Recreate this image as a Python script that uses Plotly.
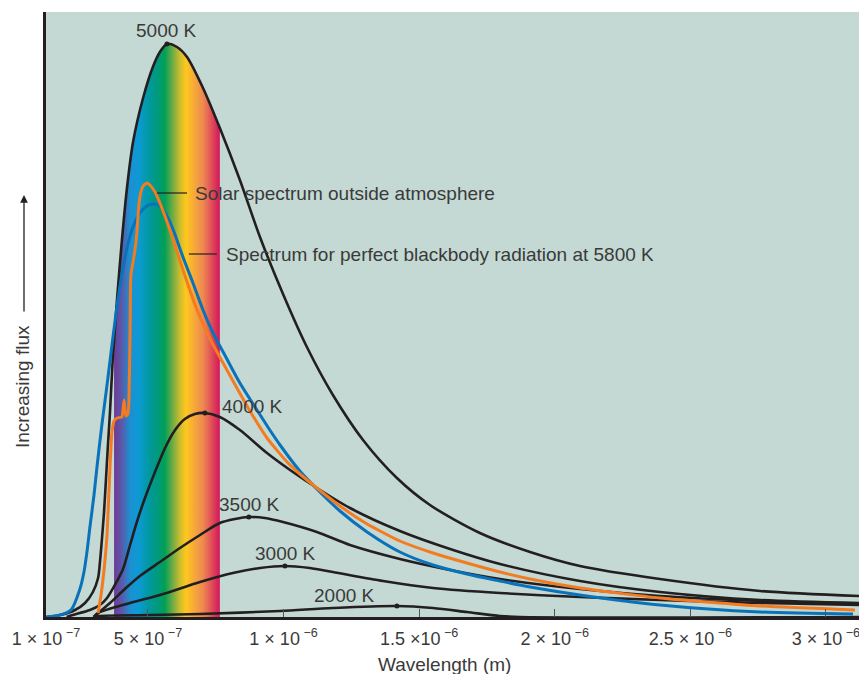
import plotly.graph_objects as go

# ---------------- data (wavelength in micrometres, flux in arbitrary units) ----------------
wl_5000 = [0.125, 0.176, 0.231, 0.268, 0.297, 0.316, 0.323, 0.330, 0.338, 0.345, 0.352, 0.360,
           0.371, 0.375, 0.386, 0.404, 0.423, 0.445, 0.482, 0.518, 0.544, 0.570, 0.607, 0.644,
           0.703, 0.765, 0.839, 0.913, 0.998, 1.086, 1.182, 1.293, 1.418, 1.540, 1.724, 1.909,
           2.093, 2.388, 2.757, 3.122]
flux_5000 = [0, 2, 7, 14, 25, 39, 55, 77, 105, 137, 170, 205,
             262, 276, 318, 377, 430, 475, 519, 550, 565, 573, 570, 560,
             529, 489, 437, 380, 323, 270, 222, 177, 139, 112, 84, 65,
             51, 38, 26, 21]

wl_4000 = [0.200, 0.223, 0.286, 0.323, 0.349, 0.378, 0.408, 0.434, 0.459, 0.489, 0.526, 0.563,
           0.600, 0.636, 0.673, 0.710, 0.765, 0.839, 0.939, 1.024, 1.123, 1.245, 1.429,
           1.614, 1.798, 2.093, 2.388, 2.757, 3.122]
flux_4000 = [0, 2, 7, 12, 19, 32, 48, 72, 95, 119, 145, 169,
             187, 198, 203, 204, 200, 187, 164, 147, 129, 109, 86,
             68, 53, 36, 25, 17, 14]

wl_3500 = [0.300, 0.316, 0.360, 0.415, 0.470, 0.544, 0.618, 0.692, 0.765, 0.821, 0.872, 0.931,
           0.998, 1.123, 1.245, 1.429, 1.614, 1.798, 2.093, 2.388, 2.757, 3.122]
flux_3500 = [0, 4, 14, 28, 41, 55, 69, 82, 94, 98, 100, 99,
             95, 85, 72, 58, 47, 38, 28, 21, 16, 13]

wl_3000 = [0.300, 0.316, 0.434, 0.544, 0.692, 0.813, 0.913, 1.005, 1.097, 1.182, 1.367, 1.551,
           1.798, 2.093, 2.388, 2.757, 3.122]
flux_3000 = [0, 4, 14, 22, 35, 44, 49, 51, 49, 45, 36, 29,
             24, 20, 17, 14, 12]

wl_2000 = [0.300, 0.316, 0.507, 0.692, 0.987, 1.182, 1.418, 1.551, 1.676, 1.798, 1.872, 3.122]
flux_2000 = [0, 1, 2, 3, 6, 9, 11, 9, 5, 1, 0, 0]

wl_bb5800 = [0.125, 0.176, 0.216, 0.249, 0.264, 0.275, 0.286, 0.301, 0.312, 0.330, 0.349, 0.371,
             0.389, 0.408, 0.426, 0.445, 0.470, 0.496, 0.518, 0.544, 0.570, 0.592, 0.629, 0.666,
             0.703, 0.740, 0.791, 0.839, 0.902, 0.942, 0.987, 1.060, 1.123, 1.208, 1.308, 1.429,
             1.551, 1.676, 1.798, 1.909, 2.093, 2.388, 2.757, 3.100]
flux_bb5800 = [0, 2, 7, 28, 45, 65, 90, 122, 150, 192, 232, 280,
               317, 349, 373, 390, 404, 411, 413, 411, 401, 388, 360, 334,
               307, 284, 258, 234, 207, 190, 172, 146, 128, 106, 85, 65,
               52, 43, 36, 30, 22, 12, 5, 3]

wl_solar = [0.316, 0.327, 0.338, 0.349, 0.360, 0.367, 0.375, 0.386, 0.404, 0.408, 0.412, 0.415,
            0.419, 0.426, 0.430, 0.434, 0.437, 0.445, 0.452, 0.459, 0.463, 0.470, 0.482, 0.496,
            0.507, 0.526, 0.544, 0.581, 0.629, 0.681, 0.729, 0.777, 0.828, 0.876, 0.939, 1.013,
            1.060, 1.123, 1.208, 1.308, 1.429, 1.551, 1.676, 1.798, 1.909, 2.093, 2.388, 2.757,
            3.107]
flux_solar = [4, 22, 47, 82, 150, 184, 196, 199, 200, 207, 217, 207,
              201, 203, 217, 287, 342, 355, 367, 384, 400, 420, 431, 434,
              432, 425, 414, 387, 347, 307, 278, 254, 229, 206, 179, 155,
              143, 129, 111, 93, 76, 64, 54, 45, 38, 29, 19, 11,
              7]

visible_band = [0.375, 0.765]   # edges of the colour band (µm)

curve_labels = ["5000 K", "4000 K", "3500 K", "3000 K", "2000 K"]
tick_vals = [0.124, 0.5, 1.0, 1.5, 2.0, 2.5, 3.0]
tick_text = ["1 × 10<sup> −7</sup>", "5 × 10<sup> −7</sup>", "1 × 10<sup> −6</sup>",
             "1.5 ×10<sup> −6</sup>", "2 × 10<sup> −6</sup>", "2.5 × 10<sup> −6</sup>",
             "3 × 10<sup> −6</sup>"]

# ---------------- figure ----------------
BLACK = "#231f20"
TEXT = "#3a3a3a"
FS = 19
fig = go.Figure()

# rainbow fill under the 5000 K curve inside the visible band
band_x = [w for w in wl_5000 if visible_band[0] <= w <= visible_band[1]]
band_y = [f for w, f in zip(wl_5000, flux_5000) if visible_band[0] <= w <= visible_band[1]]
rainbow = [
    [0.00, "#6e3a94"], [0.07, "#5b58aa"], [0.15, "#1e8fd0"], [0.23, "#0c9ad6"],
    [0.34, "#00999a"], [0.42, "#009a78"], [0.48, "#00a055"], [0.55, "#6aab45"],
    [0.62, "#c8bc30"], [0.68, "#ffc81e"], [0.76, "#f6a83a"], [0.84, "#ee8a50"],
    [0.92, "#e05058"], [1.00, "#d4145a"],
]
fig.add_trace(go.Scatter(
    x=band_x, y=band_y, mode="lines", fill="tozeroy",
    line=dict(width=0, shape="spline", smoothing=0.8),
    fillgradient=dict(type="horizontal", colorscale=rainbow,
                      start=visible_band[0], stop=visible_band[1]),
    hoverinfo="skip"))

series = [(wl_5000, flux_5000), (wl_4000, flux_4000), (wl_3500, flux_3500),
          (wl_3000, flux_3000), (wl_2000, flux_2000)]
for wl, fl in series[::-1]:
    fig.add_trace(go.Scatter(x=wl, y=fl, mode="lines",
                             line=dict(color=BLACK, width=2.6, shape="spline", smoothing=0.8)))

fig.add_trace(go.Scatter(x=wl_bb5800, y=flux_bb5800, mode="lines",
                         line=dict(color="#0a72ba", width=3, shape="spline", smoothing=0.8)))
fig.add_trace(go.Scatter(x=wl_solar, y=flux_solar, mode="lines",
                         line=dict(color="#f47b20", width=3, shape="spline", smoothing=0.5)))

# peak dots and labels (label centre offset from the peak, in pixels)
label_shift = [(0, 14), (48, 7), (1, 13), (1, 13), (-52, 11)]
peak_x, peak_y = [], []
for (wl, fl), lab, (dx, dy) in zip(series, curve_labels, label_shift):
    i = max(range(len(fl)), key=lambda k: fl[k])
    peak_x.append(wl[i]); peak_y.append(fl[i])
    fig.add_annotation(x=wl[i], y=fl[i], text=lab, showarrow=False,
                       xshift=dx, yshift=dy, xanchor="center", yanchor="middle",
                       font=dict(size=FS, color=TEXT))
fig.add_trace(go.Scatter(x=peak_x, y=peak_y, mode="markers",
                         marker=dict(color=BLACK, size=5)))

# leader lines and callouts
fig.add_shape(type="line", x0=0.533, x1=0.644, y0=424, y1=424,
              line=dict(color=BLACK, width=1.2))
fig.add_annotation(x=0.665, y=424, xanchor="left", showarrow=False,
                   text="Solar spectrum outside atmosphere", font=dict(size=FS, color=TEXT))
fig.add_shape(type="line", x0=0.651, x1=0.754, y0=363, y1=363,
              line=dict(color=BLACK, width=1.2))
fig.add_annotation(x=0.779, y=363, xanchor="left", showarrow=False,
                   text="Spectrum for perfect blackbody radiation at 5800 K",
                   font=dict(size=FS, color=TEXT))

# axis titles
fig.add_annotation(xref="paper", yref="paper", x=(23 - 46) / 813, y=(617 - 387) / 605,
                   xanchor="center", yanchor="middle",
                   text="Increasing flux", textangle=-90, showarrow=False,
                   font=dict(size=FS, color=TEXT))
fig.add_annotation(xref="paper", yref="paper", x=(24 - 46) / 813, y=(617 - 195) / 605,
                   ax=0, ay=118, text="", showarrow=True, arrowhead=2, arrowsize=1.2,
                   arrowwidth=1.3, arrowcolor=BLACK)
fig.add_annotation(xref="paper", yref="paper", x=(444 - 46) / 813, y=(617 - 664) / 605,
                   xanchor="center", yanchor="middle", text="Wavelength (m)", showarrow=False,
                   font=dict(size=FS, color=TEXT))

fig.update_layout(
    width=859, height=674, margin=dict(l=46, r=0, t=12, b=57),
    plot_bgcolor="#c4d9d3", paper_bgcolor="white", showlegend=False,
    font=dict(family="Liberation Sans, Arial, sans-serif", size=FS, color=TEXT),
    xaxis=dict(range=[0.124, 3.122], tickvals=tick_vals, ticktext=tick_text,
               ticks="inside", ticklen=8, tickwidth=1, tickcolor="#555",
               showline=True, linecolor=BLACK, linewidth=3, showgrid=False,
               zeroline=False, automargin=False, ticklabeloverflow="allow",
               ticklabelstandoff=3, tickfont=dict(size=18, color=TEXT)),
    yaxis=dict(range=[0, 605], showticklabels=False, showgrid=False, zeroline=False,
               showline=True, linecolor=BLACK, linewidth=2.5, ticks="", automargin=False),
)

fig.write_html("out.html", config={"displayModeBar": False},
               post_script="document.body.style.margin='0';")
